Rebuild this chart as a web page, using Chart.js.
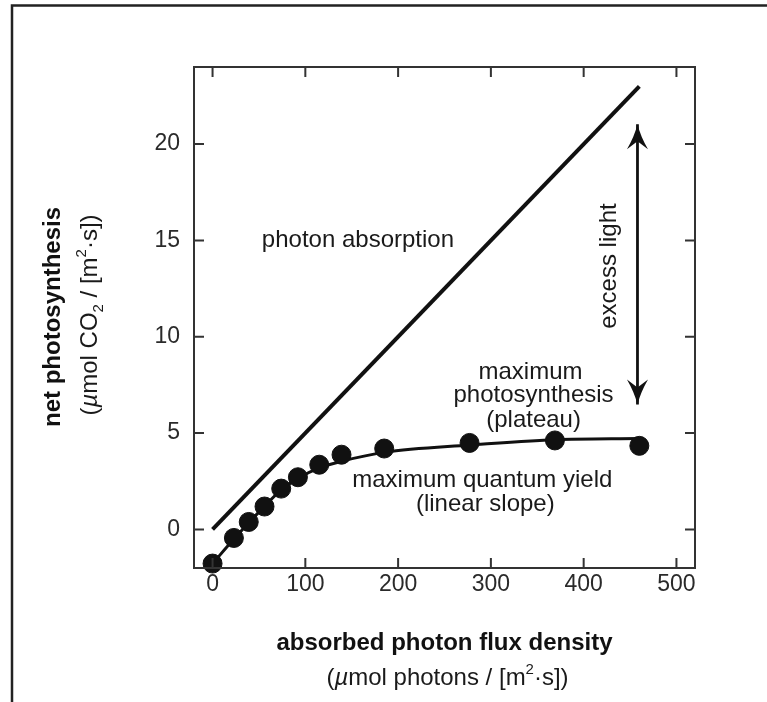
<!DOCTYPE html>
<html><head><meta charset="utf-8">
<script src="https://cdn.jsdelivr.net/npm/chart.js@4/dist/chart.umd.min.js"></script>
<style>html,body{margin:0;padding:0;background:#fff;}#wrap{width:767px;height:702px;position:relative;}</style>
</head><body>
<div id="wrap"><canvas id="c" width="767" height="702"></canvas></div>
<script>
// ---- data ----
const measuredFlux = [0, 23, 39, 56, 74, 92, 115, 139, 185, 277, 369, 460];
const measuredNetPhotosynthesis = [-1.77, -0.44, 0.39, 1.19, 2.12, 2.71, 3.36, 3.88, 4.2, 4.49, 4.62, 4.34];
const fitFlux = [0, 23, 40, 56, 74, 92, 115, 140, 185, 277, 369, 460];
const fitNetPhotosynthesis = [-1.77, -0.5, 0.4, 1.2, 2.05, 2.65, 3.2, 3.55, 4.0, 4.38, 4.66, 4.72];
const absorptionFlux = [0, 460];
const absorptionValues = [0, 23];
const excessLightFlux = [458, 458];
const excessLightValues = [6.48, 21.03];
const xTickValues = [0, 100, 200, 300, 400, 500];
const yTickValues = [0, 5, 10, 15, 20];
const annotationTexts = ["photon absorption", "maximum", "photosynthesis", "(plateau)",
  "maximum quantum yield", "(linear slope)", "excess light"];
const xTitle = "absorbed photon flux density";
const yTitle = "net photosynthesis";

// ---- layout (data-space anchors for annotations) ----
const annotationAnchors = [
  {x: 156.7, y: 15.0, rot: 0},
  {x: 342.7, y: 8.14, rot: 0},
  {x: 346, y: 6.94, rot: 0},
  {x: 346, y: 5.64, rot: 0},
  {x: 290.7, y: 2.53, rot: 0},
  {x: 294, y: 1.29, rot: 0},
  {x: 428, y: 13.67, rot: -Math.PI/2}
];

const FAM = '"Liberation Sans", Arial, Helvetica, sans-serif';
const toXY = (xs, ys) => xs.map((x, i) => ({x: x, y: ys[i]}));

function drawRich(ctx, segs, cx, cy, angle) {
  ctx.save();
  ctx.translate(cx, cy);
  ctx.rotate(angle || 0);
  let total = 0;
  segs.forEach(s => { ctx.font = s.font; s.w = ctx.measureText(s.t).width; total += s.w; });
  let x = -total / 2;
  ctx.textBaseline = 'middle';
  ctx.textAlign = 'left';
  segs.forEach(s => { ctx.font = s.font; ctx.fillStyle = s.color || '#1a1a1a'; ctx.fillText(s.t, x, s.dy || 0); x += s.w; });
  ctx.restore();
}

const reg = '24px ' + FAM, ital = 'italic 24px ' + FAM, bold = 'bold 24px ' + FAM, small = '15px ' + FAM;

const decor = {
  id: 'decor',
  beforeDraw(chart) {
    const ctx = chart.ctx;
    ctx.save();
    ctx.fillStyle = '#fff';
    ctx.fillRect(0, 0, chart.width, chart.height);
    ctx.strokeStyle = '#222';
    ctx.lineWidth = 2.5;
    ctx.beginPath();
    ctx.moveTo(12, 702);
    ctx.lineTo(12, 5.5);
    ctx.lineTo(767, 5.5);
    ctx.stroke();
    ctx.restore();
  },
  afterDraw(chart) {
    const ctx = chart.ctx, a = chart.chartArea;
    const xs = chart.scales.x, ys = chart.scales.y;
    ctx.save();
    ctx.strokeStyle = '#333';
    ctx.lineWidth = 2;
    ctx.strokeRect(a.left, a.top, a.right - a.left, a.bottom - a.top);
    const TL = 10;
    ctx.beginPath();
    xs.ticks.forEach(t => {
      const px = xs.getPixelForValue(t.value);
      ctx.moveTo(px, a.bottom); ctx.lineTo(px, a.bottom - TL);
      ctx.moveTo(px, a.top); ctx.lineTo(px, a.top + TL);
    });
    ys.ticks.forEach(t => {
      const py = ys.getPixelForValue(t.value);
      ctx.moveTo(a.left, py); ctx.lineTo(a.left + TL, py);
      ctx.moveTo(a.right, py); ctx.lineTo(a.right - TL, py);
    });
    ctx.stroke();
    ctx.restore();

    annotationTexts.forEach((txt, i) => {
      const an = annotationAnchors[i];
      drawRich(ctx, [{t: txt, font: reg}], xs.getPixelForValue(an.x), ys.getPixelForValue(an.y), an.rot);
    });

    drawRich(ctx, [{t: xTitle, font: bold, color: '#111'}], 444.5, 643, 0);
    drawRich(ctx, [
      {t: '(', font: reg}, {t: '\u00b5', font: ital}, {t: 'mol photons / [m', font: reg},
      {t: '2', font: small, dy: -8}, {t: '\u00b7s])', font: reg}
    ], 447.5, 678, 0);
    drawRich(ctx, [{t: yTitle, font: bold, color: '#111'}], 53, 317, -Math.PI / 2);
    drawRich(ctx, [
      {t: '(', font: reg}, {t: '\u00b5', font: ital}, {t: 'mol CO', font: reg},
      {t: '2', font: small, dy: 9}, {t: ' / [m', font: reg},
      {t: '2', font: small, dy: -8}, {t: '\u00b7s])', font: reg}
    ], 90, 315, -Math.PI / 2);
  },
  afterDatasetsDraw(chart) {
    const meta = chart.getDatasetMeta(3);
    const ctx = chart.ctx;
    const p0 = meta.data[0], p1 = meta.data[1];
    const head = (x, y, dir) => {
      ctx.beginPath();
      ctx.moveTo(x, y);
      ctx.quadraticCurveTo(x + 3, y + dir * 12, x + 10.5, y + dir * 25);
      ctx.lineTo(x, y + dir * 17);
      ctx.lineTo(x - 10.5, y + dir * 25);
      ctx.quadraticCurveTo(x - 3, y + dir * 12, x, y);
      ctx.closePath();
      ctx.fill();
    };
    ctx.save();
    ctx.fillStyle = '#111';
    head(p1.x, p1.y, 1);
    head(p0.x, p0.y, -1);
    ctx.restore();
  }
};

new Chart(document.getElementById('c'), {
  type: 'scatter',
  data: {
    datasets: [
      {label: 'photon absorption', data: toXY(absorptionFlux, absorptionValues), showLine: true,
       borderColor: '#111', borderWidth: 4, pointRadius: 0, order: 3},
      {label: 'fit', data: toXY(fitFlux, fitNetPhotosynthesis), showLine: true, cubicInterpolationMode: 'monotone',
       borderColor: '#111', borderWidth: 3, pointRadius: 0, order: 2},
      {label: 'measured', data: toXY(measuredFlux, measuredNetPhotosynthesis), showLine: false,
       backgroundColor: '#111', borderColor: '#111', pointRadius: 9.5, pointHoverRadius: 9.5, clip: false, order: 1},
      {label: 'excess light', data: toXY(excessLightFlux, excessLightValues), showLine: true,
       borderColor: '#111', borderWidth: 2.8, pointRadius: 0, order: 4}
    ]
  },
  options: {
    responsive: false,
    animation: false,
    events: [],
    layout: {padding: {left: 0, top: 67, right: 72, bottom: 0}},
    plugins: {legend: {display: false}, tooltip: {enabled: false}, title: {display: false}},
    scales: {
      x: {
        type: 'linear', min: -20, max: 520,
        afterBuildTicks: s => { s.ticks = xTickValues.map(v => ({value: v})); },
        afterFit: s => { s.height = 134; },
        ticks: {font: {size: 23, family: FAM}, color: '#2a2a2a', padding: 3, maxRotation: 0, autoSkip: false},
        grid: {display: false, drawTicks: false},
        border: {display: false}
      },
      y: {
        type: 'linear', min: -2, max: 24,
        afterBuildTicks: s => { s.ticks = yTickValues.map(v => ({value: v})); },
        afterFit: s => { s.width = 194; },
        ticks: {font: {size: 23, family: FAM}, color: '#2a2a2a', padding: 14, autoSkip: false},
        grid: {display: false, drawTicks: false},
        border: {display: false}
      }
    }
  },
  plugins: [decor]
});
</script>
</body></html>
